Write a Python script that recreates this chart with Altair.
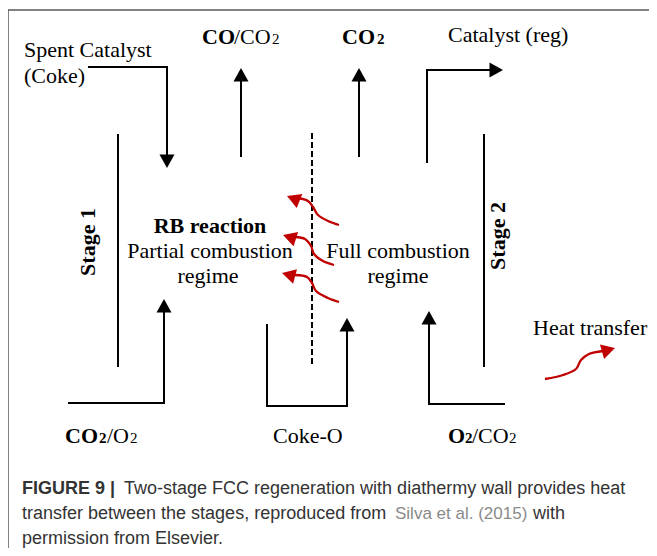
import altair as alt
import pandas as pd

# ---------------- diagram data (reference pixel coordinates) ----------------
# black polylines (flow paths and stage walls)
poly_names = ["spent", "co_up", "co2_up", "cat_reg", "wall1", "wall2", "inlet1", "cokeo", "inlet2"]
poly_x = [[88, 167, 167], [241, 241], [359, 359], [427, 427, 498], [118, 118], [484, 484],
          [68, 164, 164], [267, 267, 347, 347], [505, 429, 429]]
poly_y = [[67, 67, 160], [157, 74], [157, 74], [163, 70, 70], [134, 367], [134, 367],
          [403, 403, 305], [324, 406, 406, 325], [404, 404, 316]]

# black arrowheads: tip position and heading (degrees clockwise from up)
head_x = [167, 241, 359, 503, 164, 347, 429]
head_y = [168, 68, 68, 70, 299, 318, 311]
head_angle = [180, 0, 0, 90, 0, 0, 0]

# dashed diathermy wall
wall_x = [312, 312]
wall_y = [133, 367]

# frame
frame_x = [8, 8, 660]
frame_y = [560, 10, 10]

# red heat-transfer curves
red_names = ["h1", "h2", "h3", "heat"]
red_x = [[339, 328, 318, 313, 308, 298],
         [334, 323, 314, 311, 305, 295],
         [339, 328, 316, 312, 307, 295],
         [545, 563, 576, 581, 589, 603]]
red_y = [[225, 221, 215, 207, 201, 198],
         [265, 261, 254, 246, 239, 237],
         [302, 298, 291, 283, 277, 275],
         [379, 375, 369, 360, 354, 351]]
red_head_x = [287, 283, 282, 615]
red_head_y = [196, 235, 273, 348]
red_head_angle = [292, 288, 285, 74]

# text
serif_txt = ["Spent Catalyst", "(Coke)", "Catalyst (reg)", "Heat transfer", "Coke-O", "/CO", "/O", "/CO"]
serif_x = [24, 24, 448, 533, 273, 234, 107, 472]
serif_y = [57, 83, 42, 335, 443, 44, 443, 443]

center_txt = ["Partial combustion", "regime", "Full combustion", "regime"]
center_x = [210, 208, 398, 398]
center_y = [258, 283, 258, 283]

bold_txt = ["CO", "CO", "CO", "O"]
bold_x = [202, 342, 65, 448]
bold_y = [44, 44, 443, 443]

rb_txt = ["RB reaction"]
rb_x = [210]
rb_y = [233]

sub_bold_txt = ["2", "2", "2"]
sub_bold_x = [377, 99, 465]
sub_bold_y = [44, 443, 443]

sub_txt = ["2", "2", "2"]
sub_x = [272, 130, 509]
sub_y = [44, 443, 443]

stage_txt = ["Stage 1", "Stage 2"]
stage_x = [88, 498]
stage_y = [242, 236]

cap_bold_txt = ["FIGURE 9 |"]
cap_bold_x = [22]
cap_bold_y = [494]

cap_txt = ["Two-stage FCC regeneration with diathermy wall provides heat",
           "transfer between the stages, reproduced from", "with", "permission from Elsevier."]
cap_x = [124, 22, 533, 22]
cap_y = [494, 519, 519, 544]

cap_link_txt = ["Silva et al. (2015)"]
cap_link_x = [395]
cap_link_y = [519]

# ---------------- build ----------------
W, H = 641, 540
xs = alt.Scale(domain=[8, 8 + W], range=[0, W], nice=False, zero=False)
ys = alt.Scale(domain=[8, 8 + H], range=[0, H], nice=False, zero=False)
X = lambda: alt.X("x:Q", scale=xs, axis=None)
Y = lambda: alt.Y("y:Q", scale=ys, axis=None)


def poly_df(names, xs_, ys_):
    rows = []
    for n, px, py in zip(names, xs_, ys_):
        for i, (a, b) in enumerate(zip(px, py)):
            rows.append({"id": n, "i": i, "x": a, "y": b})
    return pd.DataFrame(rows)


def text_layer(t, x, y, **kw):
    df = pd.DataFrame({"t": t, "x": x, "y": y})
    return alt.Chart(df).mark_text(**kw).encode(x=X(), y=Y(), text="t:N")


ARROW = "M0,0L-1,1.8L1,1.8Z"

lines = alt.Chart(poly_df(poly_names, poly_x, poly_y)).mark_line(
    color="black", strokeWidth=2, strokeJoin="miter", strokeCap="butt"
).encode(x=X(), y=Y(), detail="id:N", order="i:Q")

heads = alt.Chart(pd.DataFrame({"x": head_x, "y": head_y, "a": head_angle})).mark_point(
    shape=ARROW, filled=True, color="black", opacity=1, size=225, strokeWidth=0
).encode(x=X(), y=Y(), angle=alt.Angle("a:Q", scale=None))

dashed = alt.Chart(pd.DataFrame({"x": wall_x, "y": wall_y, "i": [0, 1]})).mark_line(
    color="black", strokeWidth=2, strokeDash=[6, 3]
).encode(x=X(), y=Y(), order="i:Q")

frame = alt.Chart(pd.DataFrame({"x": frame_x, "y": frame_y, "i": [0, 1, 2]})).mark_line(
    color="#5a5a5a", strokeWidth=1.5
).encode(x=X(), y=Y(), order="i:Q")

reds = alt.Chart(poly_df(red_names, red_x, red_y)).mark_line(
    color="#c00000", strokeWidth=2.3, interpolate="catmull-rom"
).encode(x=X(), y=Y(), detail="id:N", order="i:Q")

red_heads = alt.Chart(pd.DataFrame({"x": red_head_x, "y": red_head_y, "a": red_head_angle})).mark_point(
    shape=ARROW, filled=True, color="#c00000", opacity=1, size=225, strokeWidth=0
).encode(x=X(), y=Y(), angle=alt.Angle("a:Q", scale=None))

SERIF = "Liberation Serif"
SANS = "Liberation Sans"
FS = 22

layers = [
    frame, lines, heads, dashed, reds, red_heads,
    text_layer(serif_txt, serif_x, serif_y, align="left", baseline="alphabetic",
               font=SERIF, fontSize=FS, color="black"),
    text_layer(center_txt, center_x, center_y, align="center", baseline="alphabetic",
               font=SERIF, fontSize=FS, color="black"),
    text_layer(bold_txt, bold_x, bold_y, align="left", baseline="alphabetic",
               font=SERIF, fontSize=FS, fontWeight="bold", color="black"),
    text_layer(rb_txt, rb_x, rb_y, align="center", baseline="alphabetic",
               font=SERIF, fontSize=FS, fontWeight="bold", color="black"),
    text_layer(sub_bold_txt, sub_bold_x, sub_bold_y, align="left", baseline="alphabetic",
               font=SERIF, fontSize=15, fontWeight="bold", color="black"),
    text_layer(sub_txt, sub_x, sub_y, align="left", baseline="alphabetic",
               font=SERIF, fontSize=15, color="black"),
    text_layer(stage_txt, stage_x, stage_y, align="center", baseline="middle", angle=270,
               font=SERIF, fontSize=FS, fontWeight="bold", color="black"),
    text_layer(cap_bold_txt, cap_bold_x, cap_bold_y, align="left", baseline="alphabetic",
               font=SANS, fontSize=18, fontWeight="bold", color="#333333"),
    text_layer(cap_txt, cap_x, cap_y, align="left", baseline="alphabetic",
               font=SANS, fontSize=18, color="#333333"),
    text_layer(cap_link_txt, cap_link_x, cap_link_y, align="left", baseline="alphabetic",
               font=SANS, fontSize=17, color="#8a8a8a"),
]

chart = alt.layer(*layers).properties(
    width=W, height=H, autosize=alt.AutoSizeParams(type="none"), padding=0, background="white"
).configure_view(stroke=None)

chart.save("out.html", embed_options={"renderer": "svg", "actions": False})
